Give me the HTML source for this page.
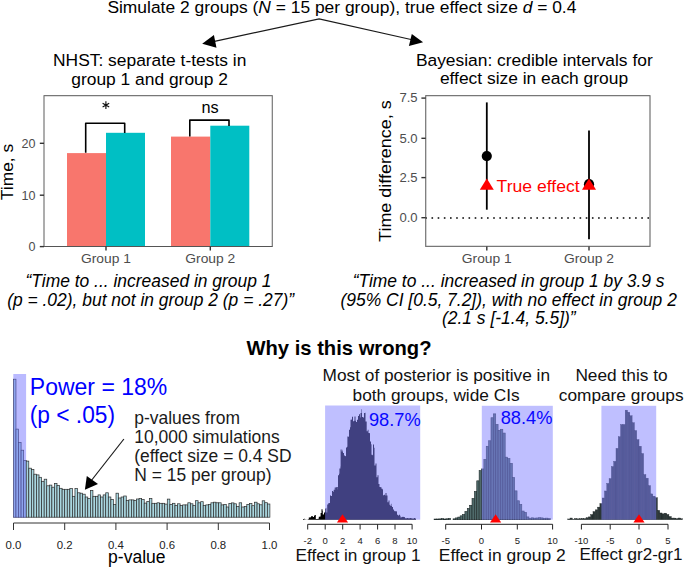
<!DOCTYPE html>
<html><head><meta charset="utf-8"><style>
html,body{margin:0;padding:0;background:#fff;width:685px;height:568px;overflow:hidden}
svg{display:block}
text{font-family:"Liberation Sans", sans-serif;fill-rule:nonzero}
</style></head><body>
<svg width="685" height="568" viewBox="0 0 685 568" font-family='"Liberation Sans", sans-serif' fill="#000">
<text x="107.4" y="13.3" font-size="17.4" textLength="469" lengthAdjust="spacingAndGlyphs">Simulate 2 groups (<tspan font-style="italic">N</tspan> = 15 per group), true effect size <tspan font-style="italic">d</tspan> = 0.4</text>
<path d="M214.5,41.3 L319.1,18.8 L411,39.5" fill="none" stroke="#1a1a1a" stroke-width="1.2"/>
<path d="M202.2,43.8 L213.9,35 L216.5,47.7 Z" fill="#000"/>
<path d="M423.1,42.3 L411.8,33.9 L408.9,46 Z" fill="#000"/>
<text x="149.7" y="65.9" font-size="17.4" text-anchor="middle">NHST: separate t-tests in</text>
<text x="149.6" y="84.9" font-size="17.4" text-anchor="middle">group 1 and group 2</text>
<text x="534.3" y="65.5" font-size="17.4" text-anchor="middle">Bayesian: credible intervals for</text>
<text x="534" y="84.3" font-size="17.4" text-anchor="middle">effect size in each group</text>
<rect x="67" y="153.1" width="39" height="93.5" fill="#F8766D"/>
<rect x="106" y="132.8" width="39" height="113.8" fill="#00BFC4"/>
<rect x="171" y="136.6" width="39.3" height="110" fill="#F8766D"/>
<rect x="210.3" y="125.7" width="39" height="120.9" fill="#00BFC4"/>
<path d="M85.7,152.8 V123.3 H124.7 V133 M189.8,136.4 V120.1 H229 V125.9" fill="none" stroke="#000" stroke-width="1.6" stroke-linejoin="round"/>
<rect x="44" y="95.6" width="228.3" height="150.9" fill="none" stroke="#777" stroke-width="1.2" stroke-linejoin="round"/>
<path d="M44,246.5 H272.3" fill="none" stroke="#555" stroke-width="1.2"/>
<path d="M105.9,101.3 V109.1 M102.6,103.3 L109.2,107.1 M102.6,107.1 L109.2,103.3" stroke="#111" stroke-width="1.15" fill="none"/>
<text x="210.1" y="112.8" font-size="16" text-anchor="middle" textLength="17.2" lengthAdjust="spacingAndGlyphs">ns</text>
<line x1="39.8" y1="246.6" x2="44" y2="246.6" stroke="#333" stroke-width="1.4"/>
<text x="35.4" y="251.0" font-size="12.6" fill="#4d4d4d" text-anchor="end" textLength="7.0" lengthAdjust="spacingAndGlyphs">0</text>
<line x1="39.8" y1="195.2" x2="44" y2="195.2" stroke="#333" stroke-width="1.4"/>
<text x="35.4" y="199.6" font-size="12.6" fill="#4d4d4d" text-anchor="end" textLength="14.0" lengthAdjust="spacingAndGlyphs">10</text>
<line x1="39.8" y1="143.3" x2="44" y2="143.3" stroke="#333" stroke-width="1.4"/>
<text x="35.4" y="147.70000000000002" font-size="12.6" fill="#4d4d4d" text-anchor="end" textLength="14.0" lengthAdjust="spacingAndGlyphs">20</text>
<line x1="106" y1="246.5" x2="106" y2="250.6" stroke="#333" stroke-width="1.4"/>
<text x="106" y="263.1" font-size="12.2" fill="#4d4d4d" text-anchor="middle" textLength="50" lengthAdjust="spacingAndGlyphs">Group 1</text>
<line x1="210.3" y1="246.5" x2="210.3" y2="250.6" stroke="#333" stroke-width="1.4"/>
<text x="210.3" y="263.1" font-size="12.2" fill="#4d4d4d" text-anchor="middle" textLength="50" lengthAdjust="spacingAndGlyphs">Group 2</text>
<text transform="translate(13.2,172) rotate(-90)" x="0" y="0" font-size="16" text-anchor="middle" textLength="56.3" lengthAdjust="spacingAndGlyphs">Time, s</text>
<line x1="425.33" y1="218" x2="650.2" y2="218" stroke="#000" stroke-width="1.6" stroke-dasharray="1.6 4.57"/>
<line x1="486.8" y1="102.4" x2="486.8" y2="209.7" stroke="#000" stroke-width="1.8"/>
<line x1="589" y1="130.5" x2="589" y2="239.3" stroke="#000" stroke-width="1.8"/>
<circle cx="486.8" cy="156.1" r="5.1" fill="#000"/>
<circle cx="589" cy="184.2" r="5.1" fill="#000"/>
<path d="M486.8,178.6 L493.8,189.8 L479.8,189.8 Z" fill="#f00"/>
<path d="M589,178.6 L596,189.8 L582,189.8 Z" fill="#f00"/>
<text x="496.6" y="192" font-size="16" fill="#f00" textLength="83.1" lengthAdjust="spacingAndGlyphs">True effect</text>
<rect x="425.7" y="95.5" width="224.3" height="150.9" fill="none" stroke="#777" stroke-width="1.25" stroke-linejoin="round"/>
<line x1="421.4" y1="98.1" x2="425.7" y2="98.1" stroke="#333" stroke-width="1.4"/>
<text x="417.6" y="102.3" font-size="12" fill="#4d4d4d" text-anchor="end" textLength="18.2" lengthAdjust="spacingAndGlyphs">7.5</text>
<line x1="421.4" y1="138.3" x2="425.7" y2="138.3" stroke="#333" stroke-width="1.4"/>
<text x="417.6" y="142.5" font-size="12" fill="#4d4d4d" text-anchor="end" textLength="18.2" lengthAdjust="spacingAndGlyphs">5.0</text>
<line x1="421.4" y1="177.6" x2="425.7" y2="177.6" stroke="#333" stroke-width="1.4"/>
<text x="417.6" y="181.79999999999998" font-size="12" fill="#4d4d4d" text-anchor="end" textLength="18.2" lengthAdjust="spacingAndGlyphs">2.5</text>
<line x1="421.4" y1="217.7" x2="425.7" y2="217.7" stroke="#333" stroke-width="1.4"/>
<text x="417.6" y="221.89999999999998" font-size="12" fill="#4d4d4d" text-anchor="end" textLength="18.2" lengthAdjust="spacingAndGlyphs">0.0</text>
<line x1="486.8" y1="246.4" x2="486.8" y2="250.6" stroke="#333" stroke-width="1.4"/>
<text x="486.8" y="263.1" font-size="12.2" fill="#4d4d4d" text-anchor="middle" textLength="50" lengthAdjust="spacingAndGlyphs">Group 1</text>
<line x1="589" y1="246.4" x2="589" y2="250.6" stroke="#333" stroke-width="1.4"/>
<text x="589" y="263.1" font-size="12.2" fill="#4d4d4d" text-anchor="middle" textLength="50" lengthAdjust="spacingAndGlyphs">Group 2</text>
<text transform="translate(391.1,171.1) rotate(-90)" x="0" y="0" font-size="16" text-anchor="middle" textLength="141.6" lengthAdjust="spacingAndGlyphs">Time difference, s</text>
<g font-size="17.45" font-style="italic" text-anchor="middle">
<text x="148.5" y="287.4">“Time to ... increased in group 1</text>
<text x="150.6" y="306">(p = .02), but not in group 2 (p = .27)”</text>
<text x="508.6" y="287.1">“Time to ... increased in group 1 by 3.9 s</text>
<text x="508.7" y="306">(95% CI [0.5, 7.2]), with no effect in group 2</text>
<text x="508.8" y="324.4">(2.1 s [-1.4, 5.5])”</text>
</g>
<text x="339" y="354.9" font-size="20.2" font-weight="bold" text-anchor="middle">Why is this wrong?</text>
<g fill="#a9d6df" stroke="#2b2b2b" stroke-width="0.7"><rect x="13.40" y="379.2" width="2.56" height="138.0"/><rect x="15.96" y="429.1" width="2.56" height="88.1"/><rect x="18.53" y="442.5" width="2.56" height="74.7"/><rect x="21.09" y="450.2" width="2.56" height="67.0"/><rect x="23.66" y="460.4" width="2.56" height="56.8"/><rect x="26.23" y="461.1" width="2.56" height="56.1"/><rect x="28.79" y="468.2" width="2.56" height="49.0"/><rect x="31.35" y="469.6" width="2.56" height="47.6"/><rect x="33.92" y="474.2" width="2.56" height="43.0"/><rect x="36.48" y="474.9" width="2.56" height="42.3"/><rect x="39.05" y="477.3" width="2.56" height="39.9"/><rect x="41.62" y="481.3" width="2.56" height="35.9"/><rect x="44.18" y="479.2" width="2.56" height="38.0"/><rect x="46.74" y="485.8" width="2.56" height="31.4"/><rect x="49.31" y="485.1" width="2.56" height="32.1"/><rect x="51.88" y="487.2" width="2.56" height="30.0"/><rect x="54.44" y="483.4" width="2.56" height="33.8"/><rect x="57.00" y="485.4" width="2.56" height="31.8"/><rect x="59.57" y="488.3" width="2.56" height="28.9"/><rect x="62.13" y="489.3" width="2.56" height="27.9"/><rect x="64.70" y="489.3" width="2.56" height="27.9"/><rect x="67.27" y="489.3" width="2.56" height="27.9"/><rect x="69.83" y="488.6" width="2.56" height="28.6"/><rect x="72.39" y="496.3" width="2.56" height="20.9"/><rect x="74.96" y="488.6" width="2.56" height="28.6"/><rect x="77.53" y="492.8" width="2.56" height="24.4"/><rect x="80.09" y="493.2" width="2.56" height="24.0"/><rect x="82.66" y="494.2" width="2.56" height="23.0"/><rect x="85.22" y="497.0" width="2.56" height="20.2"/><rect x="87.79" y="498.5" width="2.56" height="18.7"/><rect x="90.35" y="490.4" width="2.56" height="26.8"/><rect x="92.92" y="496.3" width="2.56" height="20.9"/><rect x="95.48" y="496.3" width="2.56" height="20.9"/><rect x="98.05" y="494.9" width="2.56" height="22.3"/><rect x="100.61" y="497.0" width="2.56" height="20.2"/><rect x="103.17" y="494.9" width="2.56" height="22.3"/><rect x="105.74" y="492.8" width="2.56" height="24.4"/><rect x="108.31" y="497.0" width="2.56" height="20.2"/><rect x="110.87" y="499.4" width="2.56" height="17.8"/><rect x="113.44" y="504.5" width="2.56" height="12.7"/><rect x="116.00" y="493.2" width="2.56" height="24.0"/><rect x="118.56" y="498.0" width="2.56" height="19.2"/><rect x="121.13" y="497.0" width="2.56" height="20.2"/><rect x="123.70" y="496.0" width="2.56" height="21.2"/><rect x="126.26" y="500.6" width="2.56" height="16.6"/><rect x="128.82" y="499.9" width="2.56" height="17.3"/><rect x="131.39" y="499.9" width="2.56" height="17.3"/><rect x="133.95" y="500.6" width="2.56" height="16.6"/><rect x="136.52" y="499.0" width="2.56" height="18.2"/><rect x="139.09" y="498.5" width="2.56" height="18.7"/><rect x="141.65" y="499.6" width="2.56" height="17.6"/><rect x="144.22" y="503.1" width="2.56" height="14.1"/><rect x="146.78" y="501.5" width="2.56" height="15.7"/><rect x="149.34" y="498.5" width="2.56" height="18.7"/><rect x="151.91" y="503.3" width="2.56" height="13.9"/><rect x="154.47" y="503.3" width="2.56" height="13.9"/><rect x="157.04" y="502.8" width="2.56" height="14.4"/><rect x="159.60" y="503.3" width="2.56" height="13.9"/><rect x="162.17" y="503.3" width="2.56" height="13.9"/><rect x="164.74" y="504.1" width="2.56" height="13.1"/><rect x="167.30" y="499.1" width="2.56" height="18.1"/><rect x="169.87" y="504.4" width="2.56" height="12.8"/><rect x="172.43" y="503.3" width="2.56" height="13.9"/><rect x="175.00" y="505.4" width="2.56" height="11.8"/><rect x="177.56" y="503.8" width="2.56" height="13.4"/><rect x="180.12" y="505.4" width="2.56" height="11.8"/><rect x="182.69" y="504.9" width="2.56" height="12.3"/><rect x="185.25" y="504.9" width="2.56" height="12.3"/><rect x="187.82" y="502.8" width="2.56" height="14.4"/><rect x="190.38" y="503.8" width="2.56" height="13.4"/><rect x="192.95" y="505.4" width="2.56" height="11.8"/><rect x="195.52" y="500.7" width="2.56" height="16.5"/><rect x="198.08" y="502.8" width="2.56" height="14.4"/><rect x="200.65" y="501.7" width="2.56" height="15.5"/><rect x="203.21" y="505.4" width="2.56" height="11.8"/><rect x="205.78" y="504.9" width="2.56" height="12.3"/><rect x="208.34" y="504.4" width="2.56" height="12.8"/><rect x="210.91" y="502.8" width="2.56" height="14.4"/><rect x="213.47" y="502.2" width="2.56" height="15.0"/><rect x="216.03" y="502.8" width="2.56" height="14.4"/><rect x="218.60" y="502.8" width="2.56" height="14.4"/><rect x="221.16" y="504.9" width="2.56" height="12.3"/><rect x="223.73" y="504.4" width="2.56" height="12.8"/><rect x="226.29" y="507.0" width="2.56" height="10.2"/><rect x="228.86" y="503.4" width="2.56" height="13.8"/><rect x="231.43" y="502.9" width="2.56" height="14.3"/><rect x="233.99" y="503.8" width="2.56" height="13.4"/><rect x="236.56" y="506.5" width="2.56" height="10.7"/><rect x="239.12" y="502.8" width="2.56" height="14.4"/><rect x="241.69" y="507.0" width="2.56" height="10.2"/><rect x="244.25" y="506.5" width="2.56" height="10.7"/><rect x="246.81" y="504.4" width="2.56" height="12.8"/><rect x="249.38" y="503.6" width="2.56" height="13.6"/><rect x="251.94" y="505.7" width="2.56" height="11.5"/><rect x="254.51" y="502.2" width="2.56" height="15.0"/><rect x="257.07" y="503.8" width="2.56" height="13.4"/><rect x="259.64" y="504.8" width="2.56" height="12.4"/><rect x="262.20" y="500.8" width="2.56" height="16.4"/><rect x="264.77" y="502.7" width="2.56" height="14.5"/><rect x="267.33" y="504.0" width="2.56" height="13.2"/></g>
<rect x="13.3" y="374" width="12.8" height="143.6" fill="rgb(110,110,255)" fill-opacity="0.48"/>
<path d="M13.5,523 H269.5 M13.5,523 V530 M64.7,523 V530 M115.9,523 V530 M167.1,523 V530 M218.3,523 V530 M269.5,523 V530" fill="none" stroke="#333" stroke-width="1"/>
<text x="13.5" y="548.5" font-size="11.4" fill="#222" text-anchor="middle">0.0</text>
<text x="64.7" y="548.5" font-size="11.4" fill="#222" text-anchor="middle">0.2</text>
<text x="115.9" y="548.5" font-size="11.4" fill="#222" text-anchor="middle">0.4</text>
<text x="167.1" y="548.5" font-size="11.4" fill="#222" text-anchor="middle">0.6</text>
<text x="218.3" y="548.5" font-size="11.4" fill="#222" text-anchor="middle">0.8</text>
<text x="269.5" y="548.5" font-size="11.4" fill="#222" text-anchor="middle">1.0</text>
<text x="136.8" y="563.1" font-size="17.5" text-anchor="middle">p-value</text>
<text transform="translate(29.8,394.6) scale(1,1.065)" font-size="22.7" fill="#0000ff" textLength="137.5" lengthAdjust="spacingAndGlyphs">Power = 18%</text>
<text transform="translate(29.8,422.6) scale(1,1.065)" font-size="22.7" fill="#0000ff" textLength="85.2" lengthAdjust="spacingAndGlyphs">(p &lt; .05)</text>
<g font-size="17.45" fill="#1a1a1a">
<text x="134.3" y="423.6">p-values from</text>
<text x="134.3" y="442.7">10,000 simulations</text>
<text x="134.3" y="461.6">(effect size = 0.4 SD</text>
<text x="134.3" y="480.7">N = 15 per group)</text>
</g>
<path d="M123.9,439 L91,481" stroke="#1a1a1a" stroke-width="1.2"/>
<path d="M84.9,489.7 L86.8,476.1 L98,484.1 Z" fill="#000"/>
<path d="M303.00,519.7L303.00,518.90L304.00,518.90L304.00,518.60L304.40,518.60L304.40,519.49L305.40,519.49L305.40,519.52L306.40,519.52L306.40,519.70L307.40,519.70L307.40,519.48L308.40,519.48L308.40,518.97L308.80,518.97L308.80,517.53L309.80,517.53L309.80,517.30L310.80,517.30L310.80,517.60L311.00,517.60L311.00,516.25L312.00,516.25L312.00,516.33L313.00,516.33L313.00,517.05L314.00,517.05L314.00,516.07L314.50,516.07L314.50,515.10L315.50,515.10L315.50,515.11L315.80,515.11L315.80,519.06L316.80,519.06L316.80,519.08L317.80,519.08L317.80,518.75L318.80,518.75L318.80,516.78L319.80,516.78L319.80,516.48L320.60,516.48L320.60,513.12L321.50,513.12L321.50,509.32L322.50,509.32L322.50,510.83L322.80,510.83L322.80,514.38L323.80,514.38L323.80,514.35L324.00,514.35L324.00,512.56L325.00,512.56L325.00,511.63L325.20,511.63L325.20,508.48L326.20,508.48L326.20,507.64L326.50,507.64L326.50,512.44L327.20,512.44L327.20,504.46L328.20,504.46L328.20,503.25L329.20,503.25L329.20,502.94L330.00,502.94L330.00,495.48L331.00,495.48L331.00,495.98L332.00,495.98L332.00,491.08L333.00,491.08L333.00,491.74L333.70,491.74L333.70,489.68L334.70,489.68L334.70,487.41L335.70,487.41L335.70,490.05L335.80,490.05L335.80,487.28L336.80,487.28L336.80,487.05L337.80,487.05L337.80,489.54L338.00,489.54L338.00,475.34L339.00,475.34L339.00,473.70L339.40,473.70L339.40,468.62L340.40,468.62L340.40,466.42L340.60,466.42L340.60,449.54L341.60,449.54L341.60,451.56L342.60,451.56L342.60,449.85L343.00,449.85L343.00,453.08L344.00,453.08L344.00,454.90L344.50,454.90L344.50,455.92L345.50,455.92L345.50,456.13L346.00,456.13L346.00,447.47L347.00,447.47L347.00,446.83L347.40,446.83L347.40,436.53L348.40,436.53L348.40,436.84L349.00,436.84L349.00,429.69L350.00,429.69L350.00,427.20L350.50,427.20L350.50,419.80L351.50,419.80L351.50,419.59L352.00,419.59L352.00,416.74L353.00,416.74L353.00,421.26L354.00,421.26L354.00,420.69L354.50,420.69L354.50,416.52L355.50,416.52L355.50,420.84L356.00,420.84L356.00,421.90L357.00,421.90L357.00,419.69L358.00,419.69L358.00,416.12L359.00,416.12L359.00,414.25L360.00,414.25L360.00,417.47L360.50,417.47L360.50,413.07L361.50,413.07L361.50,409.34L362.00,409.34L362.00,416.96L363.00,416.96L363.00,417.46L364.00,417.46L364.00,412.93L365.00,412.93L365.00,412.77L365.50,412.77L365.50,421.50L366.50,421.50L366.50,421.38L366.70,421.38L366.70,431.24L367.70,431.24L367.70,429.73L368.50,429.73L368.50,433.00L369.50,433.00L369.50,433.13L370.00,433.13L370.00,441.39L371.00,441.39L371.00,444.14L371.50,444.14L371.50,454.83L372.50,454.83L372.50,455.26L373.00,455.26L373.00,444.51L374.00,444.51L374.00,447.77L374.50,447.77L374.50,465.52L375.50,465.52L375.50,463.61L376.50,463.61L376.50,477.35L377.50,477.35L377.50,475.24L378.50,475.24L378.50,483.97L379.50,483.97L379.50,487.00L380.50,487.00L380.50,487.31L381.50,487.31L381.50,488.68L382.50,488.68L382.50,489.60L383.00,489.60L383.00,495.18L384.00,495.18L384.00,494.76L385.00,494.76L385.00,495.44L385.50,495.44L385.50,493.11L386.50,493.11L386.50,495.46L387.50,495.46L387.50,502.34L388.50,502.34L388.50,500.45L389.50,500.45L389.50,504.87L390.50,504.87L390.50,506.04L391.50,506.04L391.50,503.67L392.00,503.67L392.00,507.09L393.00,507.09L393.00,509.58L394.00,509.58L394.00,510.79L394.50,510.79L394.50,511.28L395.50,511.28L395.50,511.29L396.50,511.29L396.50,511.49L397.00,511.49L397.00,514.65L398.00,514.65L398.00,515.60L399.00,515.60L399.00,514.71L400.00,514.71L400.00,515.69L400.50,515.69L400.50,517.61L401.50,517.61L401.50,517.05L402.50,517.05L402.50,516.86L403.50,516.86L403.50,516.96L404.50,516.96L404.50,517.17L405.00,517.17L405.00,518.24L406.00,518.24L406.00,518.24L407.00,518.24L407.00,518.08L408.00,518.08L408.00,518.37L409.00,518.37L409.00,518.19L410.00,518.19L410.00,518.08L411.00,518.08L411.00,518.30L412.00,518.30L412.00,518.40L413.00,518.40L413.00,518.48L414.00,518.48L414.00,517.92L415.00,517.92L415.00,518.57L416.00,518.57L416.00,519.7Z" fill="#000"/>
<rect x="325.1" y="405.5" width="95.1" height="114.2" fill="rgb(128,128,255)" fill-opacity="0.5"/>
<g fill="#4f6a6a" stroke="#1f2a2a" stroke-width="0.6"><rect x="434.10" y="519.03" width="2.37" height="0.67"/><rect x="436.47" y="519.01" width="2.37" height="0.69"/><rect x="438.84" y="518.90" width="2.37" height="0.80"/><rect x="441.21" y="518.62" width="2.37" height="1.08"/><rect x="443.58" y="519.00" width="2.37" height="0.70"/><rect x="445.95" y="518.78" width="2.37" height="0.92"/><rect x="448.32" y="518.30" width="2.37" height="1.40"/><rect x="453.06" y="518.83" width="2.37" height="0.87"/><rect x="455.43" y="517.93" width="2.37" height="1.77"/><rect x="457.80" y="517.08" width="2.37" height="2.62"/><rect x="460.17" y="515.83" width="2.37" height="3.87"/><rect x="462.54" y="514.51" width="2.37" height="5.19"/><rect x="464.91" y="511.50" width="2.37" height="8.20"/><rect x="467.28" y="508.39" width="2.37" height="11.31"/><rect x="469.65" y="505.29" width="2.37" height="14.41"/><rect x="472.02" y="498.51" width="2.37" height="21.19"/><rect x="474.39" y="491.50" width="2.37" height="28.20"/><rect x="476.76" y="480.82" width="2.37" height="38.88"/><rect x="479.13" y="470.65" width="2.37" height="49.05"/><rect x="481.50" y="468.96" width="2.37" height="50.74"/><rect x="483.87" y="459.39" width="2.37" height="60.31"/><rect x="486.24" y="446.27" width="2.37" height="73.43"/><rect x="488.61" y="440.77" width="2.37" height="78.93"/><rect x="490.98" y="417.75" width="2.37" height="101.95"/><rect x="493.35" y="413.86" width="2.37" height="105.84"/><rect x="495.72" y="424.39" width="2.37" height="95.31"/><rect x="498.09" y="430.32" width="2.37" height="89.38"/><rect x="500.46" y="429.27" width="2.37" height="90.43"/><rect x="502.83" y="433.07" width="2.37" height="86.63"/><rect x="505.20" y="457.16" width="2.37" height="62.54"/><rect x="507.57" y="458.60" width="2.37" height="61.10"/><rect x="509.94" y="463.38" width="2.37" height="56.32"/><rect x="512.31" y="477.46" width="2.37" height="42.24"/><rect x="514.68" y="490.86" width="2.37" height="28.84"/><rect x="517.05" y="500.78" width="2.37" height="18.92"/><rect x="519.42" y="504.46" width="2.37" height="15.24"/><rect x="521.79" y="511.04" width="2.37" height="8.66"/><rect x="524.16" y="512.37" width="2.37" height="7.33"/><rect x="526.53" y="516.91" width="2.37" height="2.79"/><rect x="528.90" y="518.22" width="2.37" height="1.48"/><rect x="531.27" y="517.84" width="2.37" height="1.86"/><rect x="533.64" y="518.16" width="2.37" height="1.54"/><rect x="536.01" y="517.98" width="2.37" height="1.72"/><rect x="538.38" y="517.73" width="2.37" height="1.97"/><rect x="540.75" y="517.90" width="2.37" height="1.80"/><rect x="543.12" y="518.30" width="2.37" height="1.40"/><rect x="545.49" y="518.14" width="2.37" height="1.56"/><rect x="547.86" y="518.59" width="2.37" height="1.11"/></g><rect x="481.8" y="405.8" width="71.0" height="113.9" fill="rgb(128,128,255)" fill-opacity="0.5"/>
<g fill="#2c3838" stroke="#1a2020" stroke-width="0.4"><rect x="567.70" y="518.98" width="2.30" height="0.72"/><rect x="570.00" y="518.04" width="2.30" height="1.66"/><rect x="572.30" y="519.18" width="2.30" height="0.52"/><rect x="574.60" y="518.54" width="2.30" height="1.16"/><rect x="576.90" y="518.87" width="2.30" height="0.83"/><rect x="579.20" y="518.72" width="2.30" height="0.98"/><rect x="581.50" y="518.52" width="2.30" height="1.18"/><rect x="583.80" y="518.64" width="2.30" height="1.06"/><rect x="586.10" y="517.76" width="2.30" height="1.94"/><rect x="588.40" y="516.91" width="2.30" height="2.79"/><rect x="590.70" y="514.60" width="2.30" height="5.10"/><rect x="593.00" y="511.67" width="2.30" height="8.03"/><rect x="595.30" y="509.84" width="2.30" height="9.86"/><rect x="597.60" y="507.14" width="2.30" height="12.56"/><rect x="599.90" y="503.56" width="2.30" height="16.14"/><rect x="602.20" y="498.00" width="2.30" height="21.70"/><rect x="604.50" y="490.99" width="2.30" height="28.71"/><rect x="606.80" y="483.44" width="2.30" height="36.26"/><rect x="609.10" y="478.61" width="2.30" height="41.09"/><rect x="611.40" y="466.57" width="2.30" height="53.13"/><rect x="613.70" y="461.38" width="2.30" height="58.32"/><rect x="616.00" y="448.39" width="2.30" height="71.31"/><rect x="618.30" y="436.78" width="2.30" height="82.92"/><rect x="620.60" y="424.57" width="2.30" height="95.13"/><rect x="622.90" y="424.49" width="2.30" height="95.21"/><rect x="625.20" y="410.17" width="2.30" height="109.53"/><rect x="627.50" y="412.21" width="2.30" height="107.49"/><rect x="629.80" y="415.79" width="2.30" height="103.91"/><rect x="632.10" y="422.74" width="2.30" height="96.96"/><rect x="634.40" y="430.56" width="2.30" height="89.14"/><rect x="636.70" y="439.61" width="2.30" height="80.09"/><rect x="639.00" y="446.25" width="2.30" height="73.45"/><rect x="641.30" y="453.55" width="2.30" height="66.15"/><rect x="643.60" y="474.60" width="2.30" height="45.10"/><rect x="645.90" y="478.18" width="2.30" height="41.52"/><rect x="648.20" y="485.66" width="2.30" height="34.04"/><rect x="650.50" y="493.90" width="2.30" height="25.80"/><rect x="652.80" y="496.21" width="2.30" height="23.49"/><rect x="655.10" y="497.77" width="2.30" height="21.93"/><rect x="657.40" y="510.34" width="2.30" height="9.36"/><rect x="659.70" y="512.98" width="2.30" height="6.72"/><rect x="662.00" y="513.83" width="2.30" height="5.87"/><rect x="664.30" y="513.18" width="2.30" height="6.52"/><rect x="666.60" y="514.53" width="2.30" height="5.17"/><rect x="668.90" y="516.54" width="2.30" height="3.16"/><rect x="671.20" y="518.08" width="2.30" height="1.62"/><rect x="673.50" y="518.09" width="2.30" height="1.61"/><rect x="675.80" y="518.68" width="2.30" height="1.02"/><rect x="678.10" y="518.02" width="2.30" height="1.68"/><rect x="680.40" y="518.80" width="2.30" height="0.90"/></g><rect x="601.4" y="405.8" width="54.8" height="113.9" fill="rgb(128,128,255)" fill-opacity="0.5"/>
<g font-size="17.3" fill="#111" text-anchor="middle">
<text x="436.3" y="381.4" textLength="227.4" lengthAdjust="spacingAndGlyphs">Most of posterior is positive in</text>
<text x="436.1" y="400.7">both groups, wide CIs</text>
<text x="621.5" y="381.1">Need this to</text>
<text x="621.2" y="400.7">compare groups</text>
</g>
<text x="394.8" y="426.1" font-size="18.2" fill="#0808ff" text-anchor="middle" textLength="51.8" lengthAdjust="spacingAndGlyphs">98.7%</text>
<text x="526.6" y="424.4" font-size="18.2" fill="#0808ff" text-anchor="middle" textLength="51.8" lengthAdjust="spacingAndGlyphs">88.4%</text>
<path d="M342.5,514.3 L348.1,522.4 L336.9,522.4 Z" fill="#f00"/>
<path d="M495.6,514.3 L501.20000000000005,522.4 L490.0,522.4 Z" fill="#f00"/>
<path d="M639,514.3 L644.6,522.4 L633.4,522.4 Z" fill="#f00"/>
<path d="M307.7,524.3 H412.1 M307.7,524.3 V529.5 M325.2,524.3 V529.5 M342.7,524.3 V529.5 M360.1,524.3 V529.5 M377.6,524.3 V529.5 M395.0,524.3 V529.5 M412.1,524.3 V529.5" fill="none" stroke="#222" stroke-width="1"/><text x="307.7" y="543.9" font-size="9.5" fill="#222" text-anchor="middle">-2</text><text x="325.2" y="543.9" font-size="9.5" fill="#222" text-anchor="middle">0</text><text x="342.7" y="543.9" font-size="9.5" fill="#222" text-anchor="middle">2</text><text x="360.1" y="543.9" font-size="9.5" fill="#222" text-anchor="middle">4</text><text x="377.6" y="543.9" font-size="9.5" fill="#222" text-anchor="middle">6</text><text x="395.0" y="543.9" font-size="9.5" fill="#222" text-anchor="middle">8</text><text x="412.1" y="543.9" font-size="9.5" fill="#222" text-anchor="middle">10</text>
<path d="M445.7,524.3 H552.6 M445.7,524.3 V529.5 M481.5,524.3 V529.5 M517.3,524.3 V529.5 M552.6,524.3 V529.5" fill="none" stroke="#222" stroke-width="1"/><text x="445.7" y="543.9" font-size="9.5" fill="#222" text-anchor="middle">-5</text><text x="481.5" y="543.9" font-size="9.5" fill="#222" text-anchor="middle">0</text><text x="517.3" y="543.9" font-size="9.5" fill="#222" text-anchor="middle">5</text><text x="552.6" y="543.9" font-size="9.5" fill="#222" text-anchor="middle">10</text>
<path d="M581.4,524.3 H668 M581.4,524.3 V529.5 M610.2,524.3 V529.5 M639,524.3 V529.5 M668,524.3 V529.5" fill="none" stroke="#222" stroke-width="1"/><text x="581.4" y="543.9" font-size="9.5" fill="#222" text-anchor="middle">-10</text><text x="610.2" y="543.9" font-size="9.5" fill="#222" text-anchor="middle">-5</text><text x="639" y="543.9" font-size="9.5" fill="#222" text-anchor="middle">0</text><text x="668" y="543.9" font-size="9.5" fill="#222" text-anchor="middle">5</text>
<g font-size="17" fill="#111">
<text x="295.5" y="560.7" textLength="125" lengthAdjust="spacingAndGlyphs">Effect in group 1</text>
<text x="438.8" y="560.7" textLength="127" lengthAdjust="spacingAndGlyphs">Effect in group 2</text>
<text x="579.5" y="560.2" textLength="103" lengthAdjust="spacingAndGlyphs">Effect gr2-gr1</text>
</g>
</svg>
</body></html>
